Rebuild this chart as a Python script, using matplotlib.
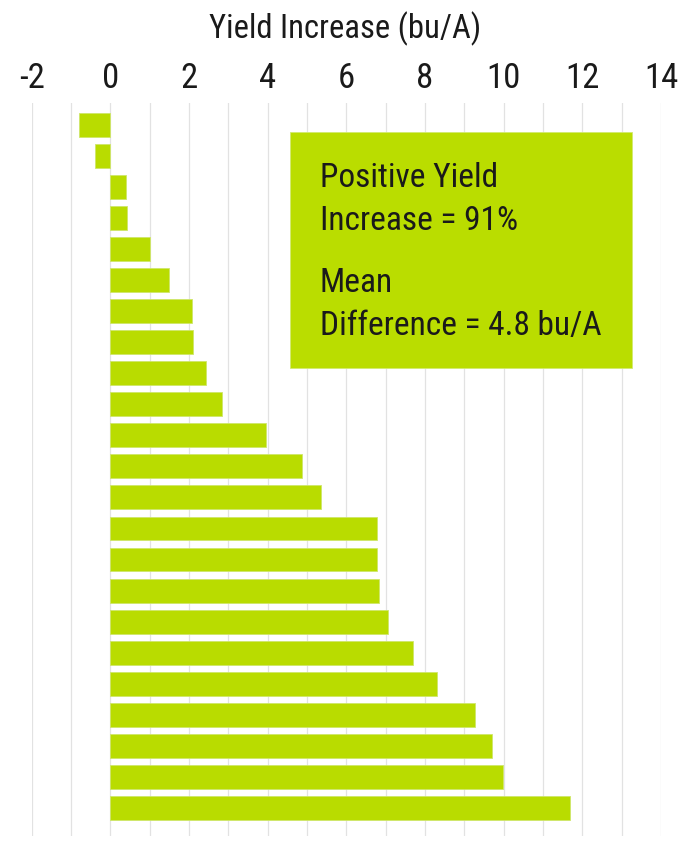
import matplotlib.pyplot as plt
from matplotlib.patches import Rectangle
from matplotlib.ticker import MultipleLocator

plt.rcParams['font.family'] = ['Roboto Condensed', 'DejaVu Sans']

# yield increase per site, top to bottom as drawn
values = [-0.8, -0.4, 0.4, 0.43, 1.0, 1.5, 2.07, 2.1, 2.43, 2.85,
          3.96, 4.88, 5.36, 6.78, 6.78, 6.83, 7.06, 7.70, 8.30,
          9.26, 9.69, 9.98, 11.68]
ticks = [-2, 0, 2, 4, 6, 8, 10, 12, 14]
title = 'Yield Increase (bu/A)'
note_lines = ['Positive Yield', 'Increase = 91%', 'Mean', 'Difference = 4.8 bu/A']

bar_color = '#b9dc00'
text_color = '#1a1a1a'

fig = plt.figure(figsize=(6.88, 8.56), dpi=100)
ax = fig.add_axes([0.046, 0.0234, 0.915, 0.856])

pos = list(range(len(values)))
ax.barh(pos, values, height=0.77, color=bar_color, edgecolor='#cfe66a',
        linewidth=0.6, zorder=3)

ax.set_xlim(ticks[0], ticks[-1])
ax.set_ylim(len(values) - 1 + 0.9, -0.69)
ax.set_xticks(ticks)
ax.set_xticklabels([str(t) for t in ticks])
ax.xaxis.set_minor_locator(MultipleLocator(1))
ax.xaxis.tick_top()
ax.tick_params(axis='x', which='both', length=0, pad=6, labelsize=25,
               labelcolor=text_color)
ax.set_yticks([])
ax.grid(axis='x', which='both', color='#e2e2e2', linewidth=0.9, zorder=0)
for s in ax.spines.values():
    s.set_visible(False)

fig.text(0.502, 0.9556, title, ha='center', va='baseline', fontsize=23.5,
         color=text_color)

ax.add_patch(Rectangle((0.4105, 0.6387), 0.543, 0.3225, transform=ax.transAxes,
                       facecolor='#badd00', edgecolor='#d2ea70', linewidth=0.6,
                       zorder=4))
for line, yy in zip(note_lines, [0.8862, 0.8271, 0.7429, 0.6838]):
    ax.text(0.458, yy, line, transform=ax.transAxes, ha='left', va='baseline',
            fontsize=24, color=text_color, zorder=5)

fig.savefig('out.png', dpi=100)
